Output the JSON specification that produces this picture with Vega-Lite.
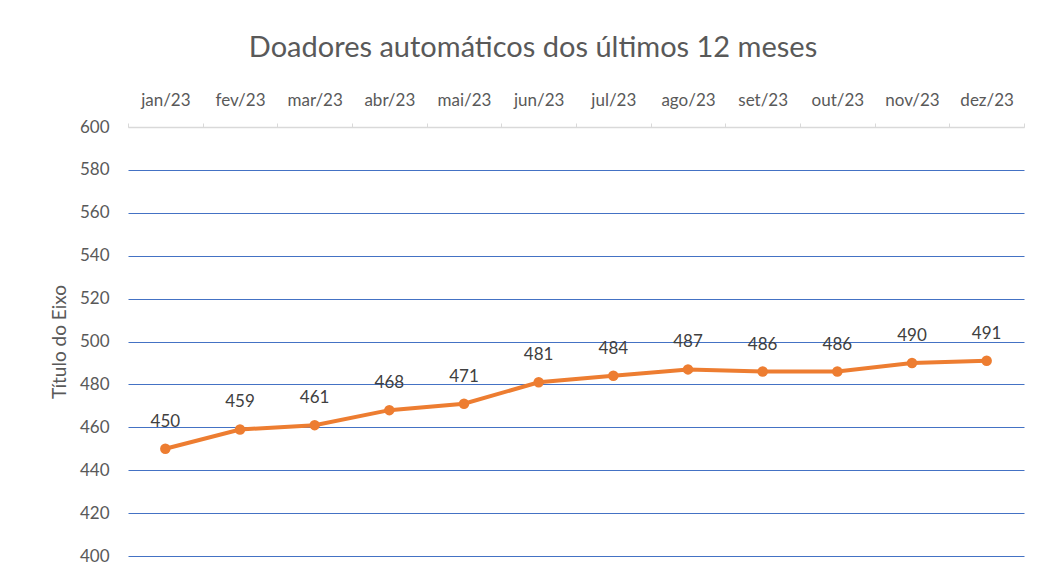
{
  "$schema": "https://vega.github.io/schema/vega-lite/v6.json",
  "autosize": "none",
  "width": 896,
  "height": 429,
  "padding": {"left": 128, "top": 127, "right": 24, "bottom": 12},
  "background": "white",
  "config": {"view": {"stroke": null}, "font": "Lato"},
  "title": {
    "text": "Doadores automáticos dos últimos 12 meses",
    "font": "Lato",
    "fontSize": 29,
    "fontWeight": "normal",
    "color": "#595959",
    "anchor": "middle",
    "dx": -43,
    "offset": 28
  },
  "data": {
    "values": [
      {"mes": "jan/23", "valor": 450},
      {"mes": "fev/23", "valor": 459},
      {"mes": "mar/23", "valor": 461},
      {"mes": "abr/23", "valor": 468},
      {"mes": "mai/23", "valor": 471},
      {"mes": "jun/23", "valor": 481},
      {"mes": "jul/23", "valor": 484},
      {"mes": "ago/23", "valor": 487},
      {"mes": "set/23", "valor": 486},
      {"mes": "out/23", "valor": 486},
      {"mes": "nov/23", "valor": 490},
      {"mes": "dez/23", "valor": 491}
    ]
  },
  "encoding": {
    "x": {
      "field": "mes",
      "type": "ordinal",
      "sort": null,
      "scale": {"paddingInner": 0, "paddingOuter": 0},
      "axis": {
        "orient": "top",
        "title": null,
        "labelAngle": 0,
        "labelFont": "Lato",
        "labelFontSize": 17,
        "labelColor": "#595959",
        "labelPadding": 14,
        "domainColor": "#D9D9D9",
        "domainWidth": 1.5,
        "tickColor": "#D9D9D9",
        "tickBand": "extent",
        "tickSize": 4,
        "grid": false
      }
    },
    "y": {
      "field": "valor",
      "type": "quantitative",
      "scale": {"domain": [400, 600], "nice": false, "zero": false},
      "axis": {
        "title": "Título do Eixo",
        "titleFont": "Lato",
        "titleFontSize": 19,
        "titleFontWeight": "normal",
        "titleColor": "#595959",
        "titlePadding": 10,
        "values": [400, 420, 440, 460, 480, 500, 520, 540, 560, 580, 600],
        "labelFont": "Lato",
        "labelFontSize": 17,
        "labelColor": "#595959",
        "labelPadding": 19,
        "domain": false,
        "ticks": false,
        "grid": true,
        "gridColor": {"condition": {"test": "datum.value === 600", "value": "#D9D9D9"}, "value": "#4472C4"},
        "gridWidth": 1,
        "gridOpacity": 1
      }
    }
  },
  "layer": [
    {
      "mark": {"type": "line", "color": "#ED7D31", "strokeWidth": 4},
      "encoding": {}
    },
    {
      "mark": {"type": "point", "filled": true, "color": "#ED7D31", "size": 110, "opacity": 1},
      "encoding": {}
    },
    {
      "mark": {"type": "text", "baseline": "middle", "dy": -27, "fontSize": 17, "color": "#404040", "font": "Lato"},
      "encoding": {"text": {"field": "valor", "type": "quantitative"}}
    }
  ]
}
